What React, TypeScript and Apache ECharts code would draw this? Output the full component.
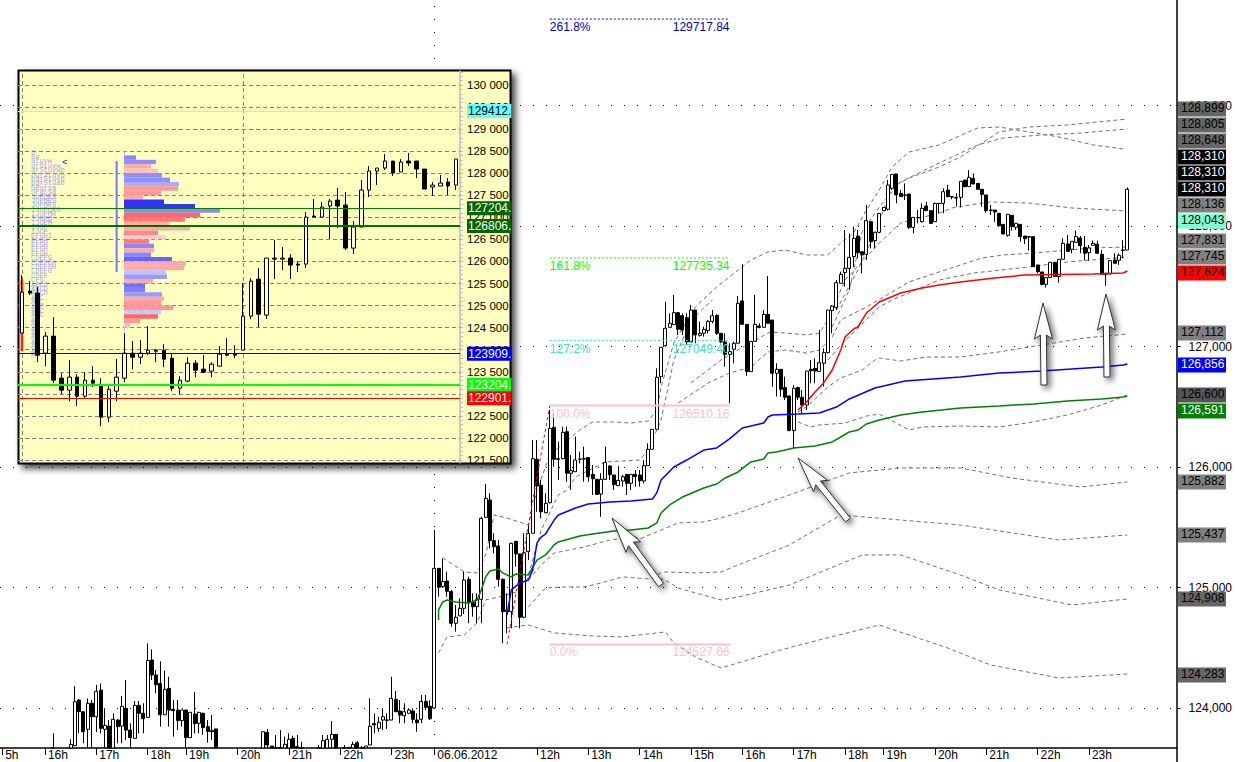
import React, { useEffect, useRef } from "react";
import * as echarts from "echarts";

const FONT = "'Liberation Sans', Arial, sans-serif";
type Bar = number[] | null;

// ---- main chart: 5-minute bars [open, close, low, high], first entry is bar 12
const FIRST_BAR = 12;
const BAR_COUNT = 275;
const MAIN_MIN = 123668;
const MAIN_MAX = 129876;
const mainCandles: Bar[] = [
  [123620,123640,123600,123790], null, null, null,
  [123600,123698,123600,123740],[123687,124052,123687,124182],[124066,123969,123790,124072],[123969,123803,123707,123969],
  [123823,124039,123600,124080],[124039,123928,123600,124066],[123928,124138,123800,124191],[124149,123831,123790,124204],
  [123823,123856,123600,123989],[123850,123600,123600,123900],[123600,123906,123600,123956],[123900,123845,123707,123906],
  [123850,124014,123707,124099],[123997,123817,123734,124232],[123817,123754,123600,123873],[123748,124022,123748,124058],
  [124022,123956,123790,124058],[123956,123911,123790,124039],[123922,124395,123922,124536],[124398,124274,124232,124487],
  [124274,124193,124121,124315],[124204,123944,123845,124387],[123944,124155,123944,124310],[124163,123983,123845,124260],
  [123989,123978,123762,124066],[123983,123895,123817,124066],[123895,123983,123845,123983],[123983,123754,123600,123983],
  [123754,123964,123754,123964],[123950,123870,123790,124133],[123873,123964,123790,123964],[123956,123837,123776,123961],
  [123845,123806,123712,123900],[123812,123803,123734,123942],[123826,123600,123600,123826],
  null,null,null,null,null,null,null,null,null,null,
  [123600,123803,123600,123803],[123798,123693,123600,123826],[123684,123600,123600,123684],[123620,123610,123600,123776],
  [123620,123610,123600,123817],[123600,123698,123600,123762],[123600,123740,123600,123790],[123748,123673,123600,123770],
  [123679,123600,123600,123776],[123620,123610,123600,123720],
  null,null,null,
  [123620,123610,123600,123693],[123600,123729,123600,123776],[123600,123740,123600,123776],[123740,123781,123600,123892],
  [123781,123600,123600,123781],
  null,
  [123620,123610,123600,123693],[123673,123600,123600,123673],[123600,123698,123600,123720],[123712,123600,123600,123726],
  [123620,123610,123600,123684],[123600,123684,123600,123684],[123693,123848,123693,124080],[123870,123860,123790,123956],
  [123831,123881,123803,123928],[123900,123928,123817,123997],[123900,123898,123826,123956],[123900,124080,123900,124260],
  [124072,123969,123969,124141],[123975,123942,123873,124066],[123936,123969,123873,124039],[123956,123983,123956,123997],
  [123975,123906,123873,123997],[123900,123878,123803,123956],[123906,124055,123873,124108],[124055,124005,123983,124108],
  [124014,123911,123900,124066],
  [124000,125159,124000,125477],[125159,125002,124924,125159],[125007,125049,125007,125242],[125054,124968,124924,125132],
  [124966,124703,124675,124980],[124703,124753,124634,124855],[124764,124827,124764,124910],[124827,125062,124780,125132],
  [125068,124874,124703,125090],[124874,124841,124758,124952],[124841,124902,124703,124952],[124902,125574,124703,125588],
  [125582,125740,125582,125859],[125726,125389,125325,125782],[125389,125339,125284,125450],[125345,125068,125007,125394],
  [125068,124800,124537,125076],[124800,124813,124620,124952],[124800,125367,124661,125372],[125383,125278,125173,125383],
  [125278,124753,124661,125284],[124753,125289,124744,125450],[125298,125450,125228,125533],[125450,126069,125450,126224],
  [126064,125842,125629,126224],[125848,125629,125574,125892],[125621,125699,125616,125782],[125704,126321,125699,126473],
  [126329,126064,126003,126445],[126069,126064,125892,126210],[126069,126288,126064,126335],[126293,125948,125878,126335],
  [125948,125970,125809,126100],[125961,126058,125961,126252],[126066,126064,126030,126127],[126069,126066,125878,126169],
  [126078,125920,125878,126078],[125939,125903,125768,126017],[125898,125773,125768,125903],[125776,125898,125588,125948],
  [125898,126039,125892,126169],[126008,125936,125892,126017],[125934,125854,125809,125934],[125845,125889,125842,126008],
  [125884,125920,125837,125934],[125939,125865,125768,125939],[125865,125939,125809,125939],[125939,125920,125837,125975],
  [125934,125887,125837,125975],[125884,126011,125865,126058],[126011,126147,126011,126196],[126147,126313,126147,126313],
  [126313,126745,126313,126819],[126750,126994,126695,126994],[127007,127151,126999,127372],[127159,127193,127159,127276],
  [127182,127281,127179,127428],[127281,127143,127096,127281],[127256,127137,127096,127276],[127240,127038,127013,127276],
  [127038,127303,127038,127345],[127303,127096,127027,127303],[127093,127110,127082,127206],[127110,127143,127082,127165],
  [127132,127209,127110,127220],[127209,127256,127193,127303],[127259,127110,127096,127267],[127110,127038,127027,127110],
  [127038,126935,126833,127110],[126935,126958,126529,127027],[126977,127027,126861,127041],[127027,127359,127027,127419],
  [127378,127184,127184,127682],[127184,126792,126756,127184],[126792,127043,126792,127043],[127043,127184,127043,127428],
  [127170,127159,127151,127193],[127159,127267,127159,127303],[127267,127193,127193,127585],[127220,126778,126667,127220],
  [126778,126811,126584,126861],[126811,126645,126584,126811],[126659,126579,126556,126750],[126590,126302,126302,126590],
  [126302,126653,126155,126681],[126659,126579,126556,126667],[126579,126515,126446,126639],[126515,126797,126473,126797],
  [126811,126800,126695,126888],[126819,126797,126695,126902],[126792,126866,126792,127137],[126861,126949,126667,126985],
  [126949,127303,126944,127303],[127298,127336,127110,127345],[127325,127530,127303,127552],[127525,127599,127525,127621],
  [127613,127649,127497,127967],[127649,127740,127469,127939],[127746,127898,127663,127995],[127917,127779,127732,127967],
  [127787,127760,127608,127787],[127765,128045,127718,128175],[128036,127870,127815,128036],[127879,127948,127815,127948],
  [127948,128105,127940,128105],[128128,128155,128128,128155],[128139,128341,128128,128382],[128313,128429,128299,128429],
  [128432,128258,128188,128432],[128271,128244,128244,128299],[128258,128255,128216,128354],[128266,127989,127975,128266],
  [127989,128072,127940,128072],[128072,128070,128022,128133],[128036,128147,128028,128188],[128166,128128,128128,128202],
  [128128,128022,128022,128128],[128036,128188,128036,128194],[128188,128186,128105,128188],[128188,128285,128105,128313],
  [128299,128244,128238,128341],[128244,128241,128222,128244],[128235,128232,128161,128271],
  [128238,128371,128153,128371],[128382,128327,128321,128382],[128327,128404,128327,128465],[128396,128349,128349,128437],
  [128354,128305,128305,128354],[128305,128263,128161,128305],[128258,128128,128111,128258],[128133,128130,128092,128175],
  [128133,128117,128036,128133],[128106,128003,127995,128106],[128014,127934,127934,128014],[127923,128097,127912,128097],
  [128089,127995,127962,128089],[127989,128023,127967,128023],[128014,127912,127870,128014],[127917,127895,127851,127917],
  [127912,127909,127796,127912],[127912,127663,127663,127912],[127677,127621,127608,127677],[127619,127514,127508,127619],
  [127516,127572,127489,127572],[127572,127699,127572,127699],[127699,127580,127580,127699],[127580,127724,127530,127724],
  [127724,127857,127724,127898],[127851,127790,127790,127926],[127807,127873,127774,127873],[127865,127912,127865,127962],
  [127901,127837,127774,127917],[127823,127774,127713,127917],[127779,127818,127713,127843],[127840,127857,127840,127879],
  [127849,127774,127774,127879],[127765,127599,127599,127801],[127608,127599,127505,127608],[127602,127713,127602,127718],
  [127718,127691,127691,127774],[127716,127757,127677,127774],[127801,127798,127732,127884],[127801,128305,127801,128321],
];

// ---- moving lines as [bar, price] readings
const greenLine = [[102,124731],[102,124814],[103,124880],[104,124897],[106,124880],[109,124872],[111,124897],[112,124980],[113,125088],[114,125137],[116,125154],[117,125121],[119,125088],[120,125112],[123,125104],[124,125170],[125,125228],[127,125270],[129,125353],[130,125378],[135,125428],[138,125444],[143,125469],[147,125477],[151,125494],[153,125536],[154,125619],[156,125685],[159,125751],[164,125826],[167,125859],[169,125909],[172,125959],[175,126042],[178,126067],[179,126117],[181,126125],[185,126158],[190,126175],[194,126208],[196,126249],[198,126291],[200,126307],[202,126357],[205,126390],[210,126432],[215,126457],[224,126490],[233,126507],[241,126523],[249,126548],[257,126565],[262,126581],[263,126590]];
const blueLine = [[118,124772],[119,124980],[121,125038],[123,125062],[124,125146],[125,125370],[126,125420],[127,125444],[129,125560],[130,125602],[134,125660],[137,125693],[142,125710],[147,125718],[152,125735],[153,125785],[154,125892],[157,126000],[160,126058],[164,126141],[167,126158],[170,126233],[173,126324],[178,126365],[179,126415],[180,126432],[186,126440],[191,126449],[195,126498],[198,126565],[204,126656],[211,126714],[224,126747],[233,126780],[243,126797],[257,126830],[262,126847],[263,126855]];
const redLine = [[186,126473],[188,126540],[190,126623],[192,126698],[194,126805],[196,126971],[197,127079],[199,127146],[200,127162],[201,127220],[202,127278],[205,127370],[210,127444],[215,127486],[219,127511],[224,127536],[232,127569],[239,127594],[255,127602],[262,127610],[263,127627]];

const bandTopFar = [[103,125245],[108,125129],[111,125121],[113,125270],[115,125602],[118,125577],[123,125519],[125,125809],[128,126100],[133,126249],[135,126307],[138,126374],[143,126374],[147,126365],[151,126382],[153,126473],[154,126664],[157,127029],[162,127328],[167,127494],[172,127635],[175,127718],[179,127785],[183,127801],[188,127760],[193,127760],[196,127860],[199,127942],[202,128133],[205,128299],[208,128490],[212,128615],[219,128673],[228,128814],[233,128822],[240,128781],[247,128739],[255,128673],[262,128640]];
const bandUpperA = [[195,127303],[200,127635],[204,127942],[208,128324],[212,128399],[219,128490],[224,128573],[233,128781],[240,128822],[249,128839],[263,128888]];
const bandUpperB = [[194,127162],[198,127469],[201,127951],[205,128158],[210,128366],[219,128523],[228,128673],[234,128731],[243,128756],[252,128772],[263,128805]];
const bandEarly = [[102,124457],[104,124590],[108,124606],[111,124706],[113,124897],[116,124921],[122,124980],[126,125478],[130,125768],[132,125809],[134,125917],[141,126042],[149,126058],[151,126141],[154,126390],[157,126888],[161,127220],[166,127386]];
const bandMidA = [[161,126697],[168,126888],[172,126971],[179,127112],[180,127121],[188,127096],[191,127112],[193,127220],[197,127552],[202,127743],[205,127859],[210,128025],[219,128108],[222,128150],[229,128191],[231,128200],[240,128191],[250,128150],[263,128125]];
const bandMidB = [[158,126531],[165,126697],[170,126780],[175,126830],[179,126955],[183,126971],[188,126946],[191,126971],[194,127079],[196,127220],[202,127328],[212,127536],[219,127619],[229,127735],[234,127760],[241,127776],[255,127818],[263,127826]];
const bandMidC = [[193,126888],[196,127013],[205,127328],[208,127386],[219,127552],[227,127610],[240,127660],[249,127702],[263,127743]];
const bandMidD = [[186,126457],[188,126498],[193,126664],[196,126739],[201,126805],[204,126888],[205,126905],[210,126880],[216,126913],[224,126913],[233,126955],[243,127013],[253,127071],[263,127104]];
const bandMidE = [[186,126374],[189,126332],[191,126349],[197,126365],[202,126423],[205,126440],[209,126365],[212,126307],[215,126332],[224,126340],[233,126332],[241,126374],[249,126432],[257,126515],[263,126598]];
const bandLowA = [[123,125062],[126,125187],[129,125286],[136,125336],[142,125394],[148,125419],[149,125403],[154,125477],[158,125536],[164,125544],[168,125577],[172,125619],[184,125768],[198,125951],[210,125992],[224,125992],[236,125909],[252,125834],[263,125876]];
const bandLowB = [[123,124839],[127,124996],[131,125004],[136,125004],[140,125038],[145,125088],[151,125071],[154,125121],[155,125129],[162,125121],[168,125129],[172,125187],[184,125353],[196,125602],[210,125560],[224,125519],[247,125394],[263,125436]];
const bandLowC = [[152,125088],[155,125063],[158,124996],[162,124955],[168,124897],[172,124921],[184,125021],[201,125270],[210,125270],[224,125104],[233,124980],[250,124855],[263,124905]];
const bandLowD = [[118,124665],[123,124689],[129,124623],[138,124598],[145,124590],[155,124631],[157,124540],[162,124424],[168,124332],[172,124374],[182,124482],[191,124565],[205,124689],[221,124498],[231,124357],[247,124249],[263,124282]];
const bands = [bandTopFar, bandUpperA, bandUpperB, bandEarly, bandMidA, bandMidB, bandMidC, bandMidD, bandMidE, bandLowA, bandLowB, bandLowC, bandLowD];

// ---- Fibonacci levels
const fiboPct = ["261.8%", "161.8%", "127.2%", "100.0%", "0.0%"];
const fiboPrice = [129717.84, 127735.34, 127049.4, 126510.16, 124527.66];
const fiboColor = ["#0000c8", "#00ff00", "#40e0d0", "#ffc0cb", "#ffc0cb"];
const fiboWidth = [1, 1, 1, 2, 2];
const fiboType = ["dashed", "dashed", "dashed", "solid", "solid"];
const fiboSwing = [[118, 124527.66], [128, 126510.16]];

// ---- axes
const mainYLabels = [124000, 125000, 126000, 127000, 128000, 129000];
const hourBars = [0, 10, 22, 34, 43, 55, 67, 79, 91, 101, 125, 137, 149, 161, 173, 185, 197, 206, 218, 230, 242, 254];
const hourNames = ["5h", "16h", "17h", "18h", "19h", "20h", "21h", "22h", "23h", "06.06.2012", "12h", "13h", "14h", "15h", "16h", "17h", "18h", "19h", "20h", "21h", "22h", "23h"];

// ---- right-hand price tags
const tagText = ["128,899", "128,805", "128,648", "128,310", "128,310", "128,310", "128,136", "128,043", "127,831", "127,745", "127,624", "127,112", "126,856", "126,600", "126,591", "125,882", "125,437", "124,908", "124,283"];
const tagFill = ["#666666", "#666666", "#666666", "#000000", "#000000", "#000000", "#808080", "#7fffd4", "#808080", "#808080", "#ff0000", "#808080", "#0000ff", "#555555", "#008000", "#808080", "#808080", "#666666", "#666666"];
const tagInk = ["#000", "#000", "#000", "#fff", "#fff", "#fff", "#000", "#000", "#000", "#000", "#000", "#000", "#fff", "#000", "#fff", "#000", "#000", "#000", "#000"];
const tagRowY = [109, 125, 141, 157, 173, 189, 205, 221, 241, 257, 273, 333, 365, 395, 411, 482, 535, 599, 675];

// ---- inset: [open, close, low, high]
const insetCandles: Bar[] = [
  [124376,125305,124376,125691],[125328,125283,125237,125555],[125283,123877,123718,125419],[123922,124308,123627,124400],
  [124308,123310,123242,124738],[123355,123083,122992,123468],[123083,123378,122833,123763],[123378,122947,122720,123446],
  [122947,123310,122901,123491],[123310,123242,123151,123627],[123196,122470,122266,123355],[122470,123105,122357,123174],
  [123060,123378,122833,123786],[123355,123922,123264,124376],[123922,123831,123559,124194],[123831,123922,123672,124217],
  [123922,123990,123877,124534],[123990,123967,123718,124013],[123990,123786,123604,124126],[123808,123128,123060,123922],
  [123128,123310,122992,123400],[123287,123695,123264,123831],[123695,123536,123378,123763],[123559,123491,123468,123877],
  [123514,123672,123378,123718],[123627,123899,123627,124081],[123899,123877,123854,124262],[123899,123877,123808,124103],
  [123990,124761,123990,125510],[124761,125555,124693,125623],[125600,124806,124512,125850],[124784,126077,124693,126077],
  [126077,126054,125600,126485],[126054,126077,125804,126326],[126077,125918,125600,126167],[125941,125918,125759,126009],
  [125941,127006,125850,127120],[127029,127006,127006,127415],[127006,127233,127006,127347],[127256,127369,126508,127415],
  [127392,127256,126757,127664],[127279,126303,126258,127573],[126303,126780,126167,126916],[126780,127619,126780,127846],
  [127619,128050,127460,128163],[128050,128118,127732,128118],[128118,128276,128072,128435],[128276,128004,127936,128276],
  [128027,128254,128027,128322],[128276,128231,128163,128458],[128276,128095,127891,128276],[128095,127641,127641,128095],
  [127687,127732,127483,127800],[127710,127778,127710,127959],[127800,127710,127505,127891],[127732,128322,127619,128322],
];
const insetAxisLabels = [121500, 122000, 122500, 123000, 123500, 124000, 124500, 125000, 125500, 126000, 126500, 127000, 127500, 128000, 128500, 129000, 129500, 130000];
const insetDayBars = [0, 28];
const insetLevelPrice = [129412, 127204, 126806, 123909, 123204, 122901];
const insetLevelText = ["129412.", "127204.", "126806.", "123909.", "123204.", "122901."];
const insetLevelFill = ["#66ffff", "#006600", "#006600", "#0000ff", "#00ff00", "#ff0000"];
const insetLevelInk = ["#000", "#fff", "#fff", "#fff", "#fff", "#fff"];
const insetLevelLine = ["#99ffee", "#008000", "#007000", "#0000a0", "#00ff00", "#ff0000"];
const insetLevelWidth = [1, 1, 2, 1, 2, 1];
const insetLast = 128310;

// ---- volume profile of the inset, top price level first
const profilePrices = ["128500","128400","128300","128200","128100","128000","127900","127800","127700","127600","127500","127400","127300","127200","127100","127000","126900","126800","126700","126600","126500","126400","126300","126200","126100","126000","125900","125800","125700","125600","125500","125400","125300","125200","125100","125000","124900","124800","124700","124600","124500"];
const profileVolume = [1,12,32,27,34,38,46,55,54,37,19,40,71,96,76,61,45,66,34,42,25,30,30,27,48,62,60,42,43,29,21,21,38,40,37,49,37,34,16,6,1];
const profileColor = ["#b0b0ff","#8888ff","#8f8fff","#ffaaaa","#ffc0c0","#8f8fff","#8f8fff","#aaaaff","#ff9999","#ff9999","#ffaaaa","#3333ff","#3333ff","#8888ff","#ff6666","#ff7777","#ffaaaa","#ffaaaa","#ff8888","#ffcccc","#ff7777","#8888ff","#ffaaaa","#8888ff","#6666ff","#ffaaaa","#ffaaaa","#c0c0ff","#9999ff","#ffaaaa","#6e6eff","#7f7fff","#9999ff","#ffaaaa","#ff9999","#ff9999","#c8c8ff","#ff6666","#ff9999","#ffbbbb","#d8d8ff"];
const tpoRows = ["D","Sv","Stuvw","qrStuvw","qrStuvwb","pqrStuvb","pqrStuvb","pqrStuab","OPqrsa","OPqrsa","JOPQRS","JOPQRS","JOPQRS","IJOPQRS","IJOPQR","IJOPQ","IJOPQ","IJOP","IJOP","EFGHI","EFGH","EFGH","EFGH","EFGH","CDEFG","CDEFGH","CDEFGH","CDEFG","CDEF","CFG","ABCD","ABCD","ABCD","ABC","ABC","ABC","ABC","ABC","AB","A","A","A","A","A","A","A","A"];
const insetProfileSpine = [[12, 128276], [12, 125759]];
const insetRedSpine = [[0, 125578], [0, 123967]];
const insetThinSpine = [[13, 124480], [13, 123900]];

// ---- hand-drawn arrows: tip and tail
const arrows = [
  [[612, 518], [661, 585]],
  [[798, 458], [848, 520]],
  [[1043, 303], [1044, 385]],
  [[1106, 294], [1107, 377]],
];

const EMPTY = ["-", "-", "-", "-"];
const toOhlc = (b: Bar) => (b ? b : EMPTY);
// candlesticks are not cut at the plot edge, so the part below the axis is stopped there
const toMainOhlc = (b: Bar) => (b ? b.map((v) => Math.max(v, MAIN_MIN)) : EMPTY);

function arrowPoints(tip: number[], tail: number[]) {
  const dx = tail[0] - tip[0], dy = tail[1] - tip[1];
  const len = Math.hypot(dx, dy);
  const ux = dx / len, uy = dy / len, nx = -uy, ny = ux;
  const at = (along: number, side: number) => [tip[0] + ux * along + nx * side, tip[1] + uy * along + ny * side];
  return [at(0, 0), at(36, 9), at(32, 3), at(len, 3), at(len, -3), at(32, -3), at(36, -9)];
}

function buildOption() {
  const categories = Array.from({ length: BAR_COUNT }, (_, i) => {
    const k = hourBars.indexOf(i);
    return k >= 0 ? hourNames[k] : "";
  });
  const barData = [
    ...Array.from({ length: FIRST_BAR }, () => EMPTY),
    ...mainCandles.map(toMainOhlc),
    ...Array.from({ length: BAR_COUNT - FIRST_BAR - mainCandles.length }, () => EMPTY),
  ];

  const insetMinor: number[] = [];
  for (let v = 121500; v <= 130300; v += 100) insetMinor.push(v);

  const series: any[] = [
    {
      type: "candlestick", name: "main", data: barData, xAxisIndex: 0, yAxisIndex: 0, barWidth: 3.5, z: 3,
      itemStyle: { color: "#fff", color0: "#000", borderColor: "#000", borderColor0: "#000", borderColorDoji: "#000", borderWidth: 1 },
      markLine: {
        silent: true, symbol: "none", z: 0, animation: false, label: { show: false },
        lineStyle: { color: "#000", width: 1, type: [1, 12] },
        data: [...mainYLabels.map((v) => ({ yAxis: v })), { xAxis: hourBars[9] }],
      },
    },
    ...bands.map((b) => ({
      type: "line", data: b, xAxisIndex: 0, yAxisIndex: 0, symbol: "none", z: 2,
      lineStyle: { color: "#707070", width: 1, type: [4, 3] },
    })),
    { type: "line", data: greenLine, symbol: "none", z: 4, lineStyle: { color: "#008000", width: 1.5 } },
    { type: "line", data: blueLine, symbol: "none", z: 4, lineStyle: { color: "#0000ff", width: 1.5 } },
    { type: "line", data: redLine, symbol: "none", z: 4, lineStyle: { color: "#ff0000", width: 1.5 } },
    { type: "line", data: fiboSwing, symbol: "none", z: 5, lineStyle: { color: "#ff0000", width: 1, type: [3, 3] } },
    ...fiboPct.map((pct, k) => ({
      type: "line", symbol: "circle", symbolSize: 0.01, z: 5,
      lineStyle: { color: fiboColor[k], width: fiboWidth[k], type: fiboType[k] === "dashed" ? [2, 2] : "solid" },
      itemStyle: { color: fiboColor[k] },
      data: [
        { value: [128, fiboPrice[k]], label: { show: true, formatter: pct, position: "right", distance: 0, offset: [0, 8], color: fiboColor[k], fontFamily: FONT, fontSize: 12 } },
        { value: [170, fiboPrice[k]], label: { show: true, formatter: fiboPrice[k].toFixed(2), position: "left", distance: 0, offset: [0, 8], color: fiboColor[k], fontFamily: FONT, fontSize: 12 } },
      ],
    })),
    {
      type: "line", xAxisIndex: 1, yAxisIndex: 1, data: [], z: 6, symbol: "none",
      markLine: {
        silent: true, symbol: "none", z: 6, animation: false, label: { show: false },
        lineStyle: { color: "#808080", width: 1, type: [4, 3] },
        data: [...insetAxisLabels.map((v) => ({ yAxis: v })), ...insetDayBars.map((i) => ({ xAxis: i }))],
      },
    },
    {
      type: "bar", xAxisIndex: 2, yAxisIndex: 2, barCategoryGap: 0, z: 7, silent: true,
      data: profileVolume.map((v, k) => ({ value: v, itemStyle: { color: profileColor[k] } })),
    },
    { type: "line", xAxisIndex: 1, yAxisIndex: 1, data: insetProfileSpine, symbol: "none", z: 7, lineStyle: { color: "#7777ff", width: 2 } },
    { type: "line", xAxisIndex: 1, yAxisIndex: 1, data: insetRedSpine, symbol: "none", z: 7, lineStyle: { color: "#ff2020", width: 2.5 } },
    { type: "line", xAxisIndex: 1, yAxisIndex: 1, data: insetThinSpine, symbol: "none", z: 7, lineStyle: { color: "#c8c8ff", width: 1 } },
    {
      type: "candlestick", name: "inset", data: insetCandles.map(toOhlc), xAxisIndex: 1, yAxisIndex: 1, barWidth: 4, z: 8,
      itemStyle: { color: "#ffffd0", color0: "#000", borderColor: "#000", borderColor0: "#000", borderColorDoji: "#000", borderWidth: 1 },
    },
    {
      type: "line", xAxisIndex: 1, yAxisIndex: 1, data: [], z: 9, symbol: "none",
      markLine: {
        silent: true, symbol: "none", z: 9, animation: false, precision: 0,
        data: [
          ...insetLevelPrice.map((v, k) => ({
            yAxis: v,
            lineStyle: { color: insetLevelLine[k], width: insetLevelWidth[k], type: "solid" },
            label: {
              show: true, position: "end", distance: 7, formatter: insetLevelText[k], color: insetLevelInk[k],
              backgroundColor: insetLevelFill[k], fontFamily: FONT, fontSize: 12, padding: [1, 0, 1, 1],
            },
          })),
          {
            yAxis: insetLast,
            lineStyle: { opacity: 0 },
            label: {
              show: true, position: "end", distance: 7, formatter: "128 310", color: "#000",
              backgroundColor: "#ffffc0", borderColor: "#b0b0b0", borderWidth: 1, fontFamily: FONT, fontSize: 11.5, padding: [1, 2, 1, 1],
            },
          },
        ],
      },
    },
  ];

  const graphic: any[] = [
    {
      type: "rect", z: 1, silent: true,
      shape: { x: 18.5, y: 70.5, width: 492, height: 393 },
      style: { fill: "#ffffc0", stroke: "#000", lineWidth: 2, shadowBlur: 7, shadowColor: "rgba(0,0,0,0.75)", shadowOffsetX: 4, shadowOffsetY: 4 },
    },
    { type: "line", z: 1, silent: true, shape: { x1: 1177, y1: 748, x2: 1177, y2: 762 }, style: { stroke: "#000", lineWidth: 1.5 } },
    ...tpoRows.map((row, k) => ({
      type: "text", z: 6, silent: true, x: 31, y: 149 + k * 4.4,
      style: { text: row, fill: "#a4a4f0", font: "7px 'Liberation Mono', monospace" },
    })),
    { type: "text", z: 7, silent: true, x: 62, y: 158, style: { text: "<", fill: "#0000ff", font: "9px 'Liberation Mono', monospace" } },
    ...arrows.map(([tip, tail]) => ({
      type: "polygon", z: 30, silent: true,
      shape: { points: arrowPoints(tip, tail) },
      style: { fill: "#fff", stroke: "#303030", lineWidth: 1, shadowBlur: 6, shadowColor: "rgba(0,0,0,0.6)", shadowOffsetX: 3, shadowOffsetY: 3 },
    })),
    ...tagText.flatMap((t, k) => [
      { type: "rect", z: 31, silent: true, shape: { x: 1178, y: tagRowY[k] - 7.5, width: 48, height: 15 }, style: { fill: tagFill[k] } },
      { type: "text", z: 32, silent: true, x: 1181, y: tagRowY[k] - 7, style: { text: t, fill: tagInk[k], font: `12px ${FONT}` } },
    ]),
  ];

  return {
    animation: false,
    backgroundColor: "#fff",
    graphic,
    grid: [
      { left: -1, top: 0, width: 1178, height: 748 },
      { left: 18, top: 71, width: 442, height: 392 },
      { left: 124, top: 151, width: 140, height: 181 },
    ],
    xAxis: [
      {
        type: "category", gridIndex: 0, data: categories, z: 1,
        axisLine: { lineStyle: { color: "#000", width: 1.5 } },
        axisTick: { show: true, alignWithLabel: true, length: 7, interval: (i: number) => hourBars.includes(i), lineStyle: { color: "#000", width: 1 } },
        axisLabel: { interval: (i: number) => hourBars.includes(i), hideOverlap: false, align: "left", margin: 1, padding: [0, 0, 0, 3], color: "#000", fontFamily: FONT, fontSize: 12 },
        splitLine: { show: false },
      },
      { type: "category", gridIndex: 1, data: insetCandles.map((_, i) => String(i)), show: false },
      { type: "value", gridIndex: 2, min: 0, max: 140, show: false },
    ],
    yAxis: [
      {
        type: "value", gridIndex: 0, position: "right", min: MAIN_MIN, max: MAIN_MAX, z: 1,
        axisLine: { show: true, onZero: false, lineStyle: { color: "#000", width: 1.5 } },
        axisTick: { show: true, length: 4, customValues: mainYLabels, lineStyle: { color: "#000" } },
        axisLabel: { customValues: mainYLabels, margin: 12, align: "left", color: "#000", fontFamily: FONT, fontSize: 12, formatter: (v: number) => v.toLocaleString("en-US") },
        splitLine: { show: false },
      },
      {
        type: "value", gridIndex: 1, position: "right", min: 121432, max: 130317, z: 5,
        axisLine: { show: true, onZero: false, lineStyle: { color: "#bdbdbd", width: 1.5 } },
        axisTick: { show: true, length: 3, customValues: insetMinor, lineStyle: { color: "#bdbdbd" } },
        axisLabel: { customValues: insetAxisLabels, margin: 7, align: "left", color: "#000", fontFamily: FONT, fontSize: 11.5, formatter: (v: number) => v.toLocaleString("en-US").replace(",", " ") },
        splitLine: { show: false },
      },
      { type: "category", gridIndex: 2, inverse: true, data: profilePrices, show: false },
    ],
    series,
  };
}

export default function App() {
  const ref = useRef<HTMLDivElement>(null);
  useEffect(() => {
    const chart = echarts.init(ref.current!, undefined, { renderer: "svg" });
    chart.setOption(buildOption() as any);
    return () => chart.dispose();
  }, []);
  return <div ref={ref} style={{ position: "fixed", left: 0, top: 0, width: 1235, height: 762, background: "#fff" }} />;
}
